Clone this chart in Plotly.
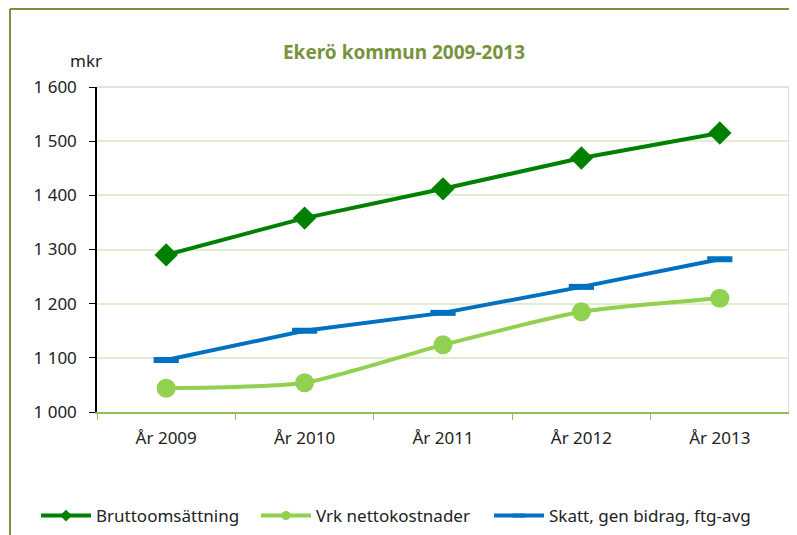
import plotly.graph_objs as go

# data (mkr)
YEARS = ["År 2009", "År 2010", "År 2011", "År 2012", "År 2013"]
BRUTTO = [1290, 1358, 1412, 1469, 1515]
VRK_NETTO = [1044, 1054, 1124, 1185, 1210]
SKATT = [1096, 1150, 1183, 1231, 1282]

Y_TICKS = [1000, 1100, 1200, 1300, 1400, 1500, 1600]

# page body has an 8px margin, so the figure is drawn 8px smaller and all
# screen positions below are shifted by OFF
OFF = 8
W, H = 797 - OFF, 535 - OFF
ML, MT = 97 - OFF, 87 - OFF
MR, MB = W - (789 - OFF), H - (412 - OFF)
PW, PH = W - ML - MR, H - MT - MB

FONT = "Noto Sans"


def px_x(x):
    # screen x -> paper fraction
    return (x - OFF - ML) / PW


def px_y(y):
    # screen y -> paper fraction
    return (H - MB - (y - OFF)) / PH


SERIES = [
    dict(name="Bruttoomsättning", y=BRUTTO, color="#008000", symbol="diamond", size=18,
         shape="linear", legend="legend", leg_x=36),
    dict(name="Vrk nettokostnader", y=VRK_NETTO, color="#92d050", symbol="circle", size=19,
         shape="spline", legend="legend2", leg_x=256),
    dict(name="Skatt, gen bidrag, ftg-avg", y=SKATT, color="#0070c0", symbol="line-ew", size=18,
         shape="linear", legend="legend3", leg_x=489),
]

plotdata = []
for s in SERIES:
    mk = dict(symbol=s["symbol"], size=s["size"], color=s["color"])
    if s["symbol"] == "line-ew":
        mk["line"] = dict(color=s["color"], width=6)
    plotdata.append(go.Scatter(
        x=YEARS, y=s["y"], name=s["name"], mode="lines+markers", showlegend=False,
        line=dict(color=s["color"], width=4, shape=s["shape"], smoothing=0.6),
        marker=mk,
    ))

# legend entries with small markers, like the original
for s in SERIES:
    mk = dict(symbol=s["symbol"], size=9, color=s["color"])
    if s["symbol"] == "line-ew":
        mk["line"] = dict(color=s["color"], width=4)
    plotdata.append(go.Scatter(
        x=[None], y=[None], name=s["name"], mode="lines+markers", legend=s["legend"],
        line=dict(color=s["color"], width=4), marker=mk,
    ))

leg_common = dict(orientation="h", xanchor="left", y=px_y(516), yanchor="middle",
                  font=dict(size=17), itemwidth=50, bgcolor="rgba(0,0,0,0)")

layout = dict(
    width=W, height=H,
    margin=dict(l=ML, r=MR, t=MT, b=MB, autoexpand=False),
    paper_bgcolor="white", plot_bgcolor="white",
    font=dict(family=FONT, size=17, color="#222222"),
    separators=", ",
    title=dict(text="<b>Ekerö kommun 2009-2013</b>", x=px_x(404), xanchor="center",
               xref="paper", y=1 - (52 - OFF) / H, yanchor="middle",
               font=dict(family=FONT, size=19, color="#77933c")),
    xaxis=dict(range=[-0.5, 4.5], showgrid=False, zeroline=False, automargin=False,
               showline=True, linecolor="#9bbb59", linewidth=1.5,
               ticks="outside", tickson="boundaries", ticklen=6, tickcolor="#9bbb59",
               ticklabelstandoff=10, tickfont=dict(size=17)),
    yaxis=dict(range=[1000, 1600], tickvals=Y_TICKS, tickformat=",d", automargin=False,
               showgrid=True, gridcolor="#e2ecd0", gridwidth=1.5, zeroline=False,
               showline=True, linecolor="black", linewidth=1.5,
               ticks="outside", ticklen=6, tickcolor="black",
               ticklabelstandoff=9, tickfont=dict(size=17)),
    showlegend=True,
)
for s in SERIES:
    layout[s["legend"]] = dict(leg_common, x=px_x(s["leg_x"]))

fig = go.Figure(data=plotdata, layout=layout)

# outer green frame, open to the right and bottom like the cropped original
fig.add_shape(type="line", xref="paper", yref="paper",
              x0=px_x(10), x1=px_x(800), y0=px_y(9), y1=px_y(9),
              line=dict(color="#77933c", width=2))
fig.add_shape(type="line", xref="paper", yref="paper",
              x0=px_x(10), x1=px_x(10), y0=px_y(9), y1=px_y(540),
              line=dict(color="#77933c", width=2))

# light grey plot area border at top and right
fig.add_shape(type="line", xref="paper", yref="paper", x0=0, x1=1, y0=1, y1=1,
              line=dict(color="#d9d9d9", width=1.5))
fig.add_shape(type="line", xref="paper", yref="paper", x0=1, x1=1, y0=0, y1=1,
              line=dict(color="#d9d9d9", width=1.5))

fig.add_annotation(text="mkr", xref="paper", yref="paper", x=px_x(86), y=px_y(60),
                   showarrow=False, font=dict(size=17), xanchor="center", yanchor="middle")

fig.write_html("out.html")
